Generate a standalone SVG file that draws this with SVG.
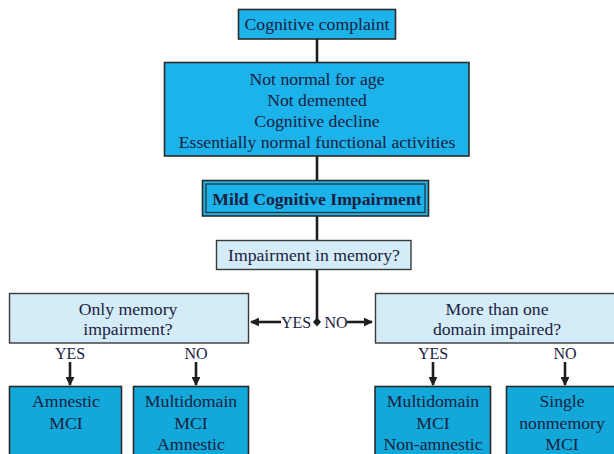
<svg xmlns="http://www.w3.org/2000/svg" width="614" height="454" viewBox="0 0 614 454">
<defs>
<style>
text{font-family:"Liberation Serif","Times New Roman",serif;font-size:17.7px;fill:#1b2140;text-anchor:middle}
.dark{fill:#1cb2ea;stroke:#2a2a2a;stroke-width:1.6}
.dark2{fill:#13a8da;stroke:#2a2a2a;stroke-width:1.6}
.light{fill:#d3ecf8;stroke:#3a3a3a;stroke-width:1.4}
.line{stroke:#1e1e1e;stroke-width:2.6;fill:none}
.lbl{font-size:16px}
</style>
<marker id="ah" viewBox="0 0 10 10" refX="9" refY="5" markerWidth="3.4" markerHeight="3.4" orient="auto" markerUnits="strokeWidth">
<path d="M0,0 L10,5 L0,10 z" fill="#1e1e1e"/>
</marker>
</defs>
<rect width="614" height="454" fill="#ffffff"/>
<g id="connectors">
<line class="line" x1="317" y1="39" x2="317" y2="62"/>
<line class="line" x1="317" y1="156" x2="317" y2="180"/>
<line class="line" x1="317" y1="216" x2="317" y2="240"/>
<line class="line" x1="317" y1="269" x2="317" y2="322"/>
<path d="M317,317.5 L321,322 L317,326.5 L313,322 z" fill="#1e1e1e"/>
<line class="line" x1="281" y1="322" x2="251" y2="322" marker-end="url(#ah)"/>
<text class="lbl" x="296" y="327.5">YES</text>
<line class="line" x1="347" y1="322" x2="372" y2="322" marker-end="url(#ah)"/>
<text class="lbl" x="336" y="327.5">NO</text>
<text class="lbl" x="70" y="359">YES</text>
<line class="line" x1="70" y1="362" x2="70" y2="385" marker-end="url(#ah)"/>
<text class="lbl" x="196" y="359">NO</text>
<line class="line" x1="196" y1="362" x2="196" y2="385" marker-end="url(#ah)"/>
<text class="lbl" x="433" y="359">YES</text>
<line class="line" x1="433" y1="362" x2="433" y2="385" marker-end="url(#ah)"/>
<text class="lbl" x="565" y="359">NO</text>
<line class="line" x1="565" y1="362" x2="565" y2="385" marker-end="url(#ah)"/>
</g>
<g id="complaint">
<rect class="dark" x="238.5" y="9.5" width="157" height="29.5"/>
<text x="317" y="30">Cognitive complaint</text>
</g>
<g id="criteria">
<rect class="dark" x="164.5" y="62.5" width="304.5" height="93.5"/>
<text x="317" y="85">Not normal for age</text>
<text x="317" y="106">Not demented</text>
<text x="317" y="127">Cognitive decline</text>
<text x="317" y="148">Essentially normal functional activities</text>
</g>
<g id="mci">
<rect class="dark" x="202.5" y="180.5" width="226" height="35.5"/>
<rect x="206" y="184" width="219" height="28.5" fill="none" stroke="#2a2a2a" stroke-width="1.2"/>
<text x="317" y="204.5" font-weight="bold">Mild Cognitive Impairment</text>
</g>
<g id="memory">
<rect class="light" x="216.5" y="240.5" width="194.5" height="29"/>
<text x="314" y="260.5">Impairment in memory?</text>
</g>
<g id="only-memory">
<rect class="light" x="9.5" y="293.5" width="239" height="49.5"/>
<text x="128" y="315">Only memory</text>
<text x="128" y="335">impairment?</text>
</g>
<g id="more-domains">
<rect class="light" x="375.5" y="293.5" width="245" height="49.5"/>
<text x="497" y="315">More than one</text>
<text x="497" y="335">domain impaired?</text>
</g>
<g id="amnestic">
<rect class="dark2" x="9.5" y="386.5" width="112" height="80"/>
<text x="66" y="407">Amnestic</text>
<text x="66" y="428.5">MCI</text>
</g>
<g id="multi-amnestic">
<rect class="dark2" x="133.5" y="386.5" width="115" height="80"/>
<text x="191" y="407">Multidomain</text>
<text x="191" y="428.5">MCI</text>
<text x="191" y="450">Amnestic</text>
</g>
<g id="multi-nonamnestic">
<rect class="dark2" x="375" y="386.5" width="115.5" height="80"/>
<text x="433" y="407">Multidomain</text>
<text x="433" y="428.5">MCI</text>
<text x="433" y="450">Non-amnestic</text>
</g>
<g id="single-nonmemory">
<rect class="dark2" x="506.5" y="386.5" width="115" height="80"/>
<text x="562" y="407">Single</text>
<text x="562" y="428.5">nonmemory</text>
<text x="562" y="450">MCI</text>
</g>
</svg>
